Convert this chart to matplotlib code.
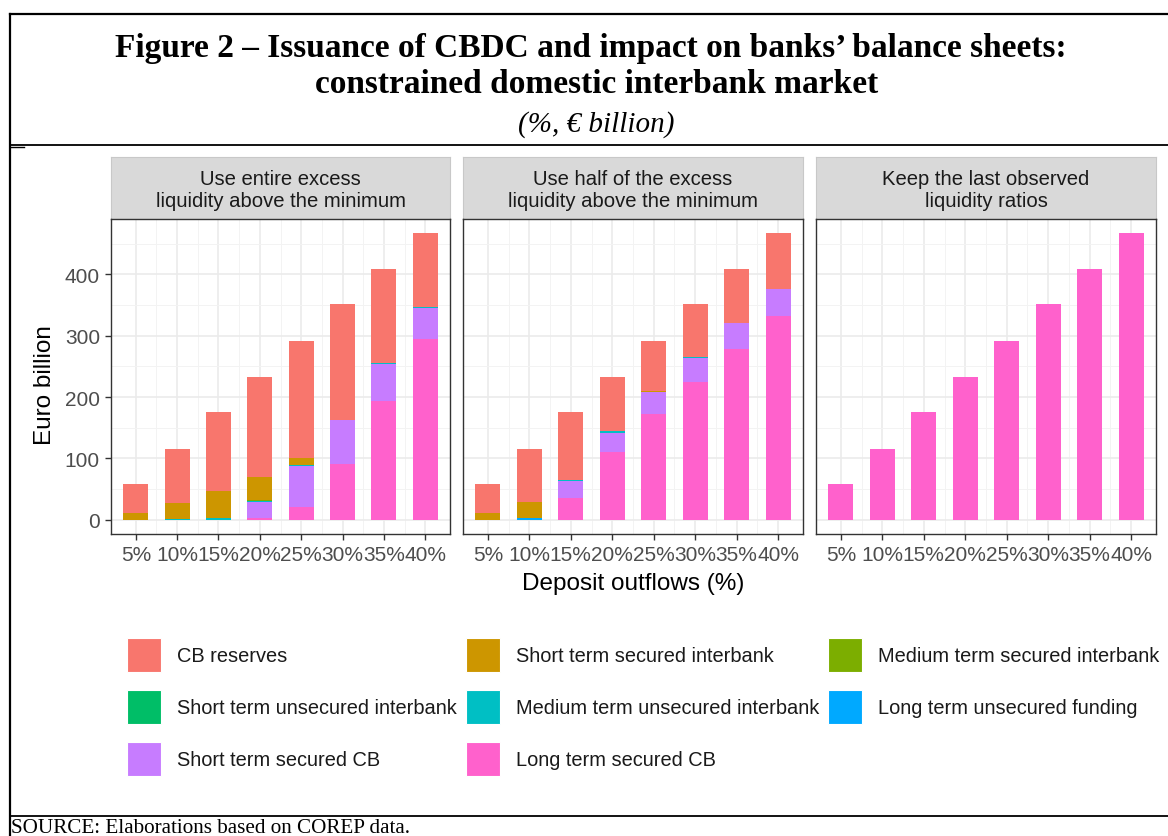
import matplotlib
matplotlib.use("Agg")
import matplotlib.pyplot as plt
from matplotlib.patches import Rectangle
import numpy as np

W, H = 1168, 837
DPI = 100

categories = ["5%", "10%", "15%", "20%", "25%", "30%", "35%", "40%"]
panels = ["Use entire excess\nliquidity above the minimum",
          "Use half of the excess\nliquidity above the minimum",
          "Keep the last observed\nliquidity ratios"]

# series (factor order, first is drawn on top of the stack)
series_names = ["CB reserves", "Short term secured interbank", "Medium term secured interbank",
                "Short term unsecured interbank", "Medium term unsecured interbank",
                "Long term unsecured funding", "Short term secured CB", "Long term secured CB"]
series_colors = ["#F8766D", "#CD9600", "#7CAE00", "#00BE67", "#00BFC4", "#00A9FF", "#C77CFF", "#FF61CC"]

# Panel 1: use entire excess liquidity
p1_cb_reserves = [47, 88, 129, 163, 192, 188, 154, 120]
p1_st_sec_ib   = [11, 27, 43, 38, 11, 0, 0, 0]
p1_mt_sec_ib   = [0, 0, 0, 1, 0, 1, 0, 0]
p1_st_unsec_ib = [0, 0, 0, 0, 0, 0, 0, 0]
p1_mt_unsec_ib = [0, 1, 3, 2, 1, 0, 1, 1]
p1_lt_unsec_f  = [0, 0, 0, 0, 0, 0, 0, 0]
p1_st_sec_cb   = [0, 0, 0, 26, 68, 71, 61, 51]
p1_lt_sec_cb   = [0, 0, 0, 3, 20, 91, 193, 295]

# Panel 2: use half of the excess liquidity
p2_cb_reserves = [47, 87, 110, 89, 82, 85, 88, 90]
p2_st_sec_ib   = [11, 26, 0, 0, 1, 0, 0, 0]
p2_mt_sec_ib   = [0, 0, 0, 0, 0, 0, 0, 0]
p2_st_unsec_ib = [0, 0, 0, 0, 0, 0, 0, 0]
p2_mt_unsec_ib = [0, 0, 2, 2, 0, 2, 1, 0]
p2_lt_unsec_f  = [0, 3, 0, 0, 0, 0, 0, 0]
p2_st_sec_cb   = [0, 0, 28, 32, 36, 39, 42, 45]
p2_lt_sec_cb   = [0, 0, 35, 110, 173, 225, 278, 332]

# Panel 3: keep last observed liquidity ratios
p3_cb_reserves = [0] * 8
p3_st_sec_ib   = [0] * 8
p3_mt_sec_ib   = [0] * 8
p3_st_unsec_ib = [0] * 8
p3_mt_unsec_ib = [0] * 8
p3_lt_unsec_f  = [0] * 8
p3_st_sec_cb   = [0] * 8
p3_lt_sec_cb   = [58, 116, 175, 233, 292, 351, 409, 467]

panel_data = [
    [p1_cb_reserves, p1_st_sec_ib, p1_mt_sec_ib, p1_st_unsec_ib, p1_mt_unsec_ib, p1_lt_unsec_f, p1_st_sec_cb, p1_lt_sec_cb],
    [p2_cb_reserves, p2_st_sec_ib, p2_mt_sec_ib, p2_st_unsec_ib, p2_mt_unsec_ib, p2_lt_unsec_f, p2_st_sec_cb, p2_lt_sec_cb],
    [p3_cb_reserves, p3_st_sec_ib, p3_mt_sec_ib, p3_st_unsec_ib, p3_mt_unsec_ib, p3_lt_unsec_f, p3_st_sec_cb, p3_lt_sec_cb],
]
y_ticks = [0, 100, 200, 300, 400]

SANS = "Liberation Sans"
SERIF = "Liberation Serif"

fig = plt.figure(figsize=(W / DPI, H / DPI), dpi=DPI)

def px_axes(x0, y0, x1, y1, **kw):
    return fig.add_axes([x0 / W, 1 - y1 / H, (x1 - x0) / W, (y1 - y0) / H], **kw)

# background layer
bg = px_axes(0, 0, W, H, zorder=0)
bg.set_xlim(0, W)
bg.set_ylim(H, 0)
bg.axis("off")

# frame lines
bg.plot([9.5, 9.5], [15, H], color="black", lw=1.6)
bg.plot([9.5, W], [15, 15], color="black", lw=1.6)
bg.plot([9.5, W], [146, 146], color="black", lw=1.3)
bg.plot([9.5, W], [817, 817], color="black", lw=1.3)
bg.plot([9.5, 24], [147.5, 147.5], color="black", lw=1.0)

# title
bg.text(591, 48, "Figure 2 \u2013 Issuance of CBDC and impact on banks\u2019 balance sheets:",
        ha="center", va="center", fontsize=24, fontweight="bold", family=SERIF)
bg.text(597, 84, "constrained domestic interbank market",
        ha="center", va="center", fontsize=24, fontweight="bold", family=SERIF)
bg.text(596, 125, "(%, \u20ac billion)", ha="center", va="center", fontsize=21,
        style="italic", family=SERIF)
bg.text(11, 829, "SOURCE: Elaborations based on COREP data.", ha="left", va="center",
        fontsize=15.2, family=SERIF)

panel_x = [(111, 450), (463, 803), (816, 1156)]
strip_top, strip_bot, ax_bot = 158, 220, 535

x = np.arange(1, len(categories) + 1)
for pi, (x0, x1) in enumerate(panel_x):
    # strip
    sax = px_axes(x0, strip_top, x1, strip_bot)
    sax.set_facecolor("#D9D9D9")
    sax.set_xticks([]); sax.set_yticks([])
    for s in sax.spines.values():
        s.set_color("#C8C8C8"); s.set_linewidth(0.8)
    sax.text(0.5, 0.47, panels[pi], ha="center", va="center", fontsize=14.6,
             color="#1A1A1A", family=SANS, transform=sax.transAxes, linespacing=1.2)

    ax = px_axes(x0, strip_bot, x1, ax_bot)
    ax.set_xlim(0.4, 8.6)
    ax.set_ylim(-23.35, 490.4)
    ax.set_axisbelow(True)
    ax.set_yticks(y_ticks)
    ax.set_yticks([50, 150, 250, 350, 450], minor=True)
    ax.set_xticks(x)
    ax.set_xticks(x[:-1] + 0.5, minor=True)
    ax.grid(True, which="major", color="#EBEBEB", lw=1.2)
    ax.grid(True, which="minor", color="#F3F3F3", lw=0.7)
    ax.tick_params(which="minor", length=0)
    ax.tick_params(which="major", length=4, width=1, color="#333333",
                   labelcolor="#4D4D4D", labelsize=15, pad=4)
    ax.set_xticklabels(categories, family=SANS)
    if pi == 0:
        ax.set_yticklabels([str(v) for v in y_ticks], family=SANS)
    else:
        ax.tick_params(axis="y", which="major", length=0, labelleft=False)
    for s in ax.spines.values():
        s.set_color("#333333"); s.set_linewidth(1.0)

    # stacked bars: last series at the bottom
    bottom = np.zeros(len(categories))
    for si in range(len(series_names) - 1, -1, -1):
        vals = np.array(panel_data[pi][si], dtype=float)
        ax.bar(x, vals, width=0.6, bottom=bottom, color=series_colors[si],
               edgecolor="none", zorder=2)
        bottom += vals

# axis labels
bg.text(45, 385, "Euro billion", rotation=90, ha="center", va="center",
        fontsize=17.5, family=SANS, color="black")
bg.text(633, 584, "Deposit outflows (%)", ha="center", va="center",
        fontsize=17.5, family=SANS, color="black")

# legend (3 columns, filled row by row)
col_x = [127, 466, 828]
row_y = [656, 708, 760]
key = 34
for i, (name, col) in enumerate(zip(series_names, series_colors)):
    r, c = divmod(i, 3)
    bg.add_patch(Rectangle((col_x[c], row_y[r] - key / 2), key, key, facecolor=col,
                           edgecolor="white", lw=0.8))
    bg.text(col_x[c] + key + 16, row_y[r], name, ha="left", va="center",
            fontsize=14.4, family=SANS, color="#1A1A1A")

fig.savefig("out.png", dpi=DPI)
